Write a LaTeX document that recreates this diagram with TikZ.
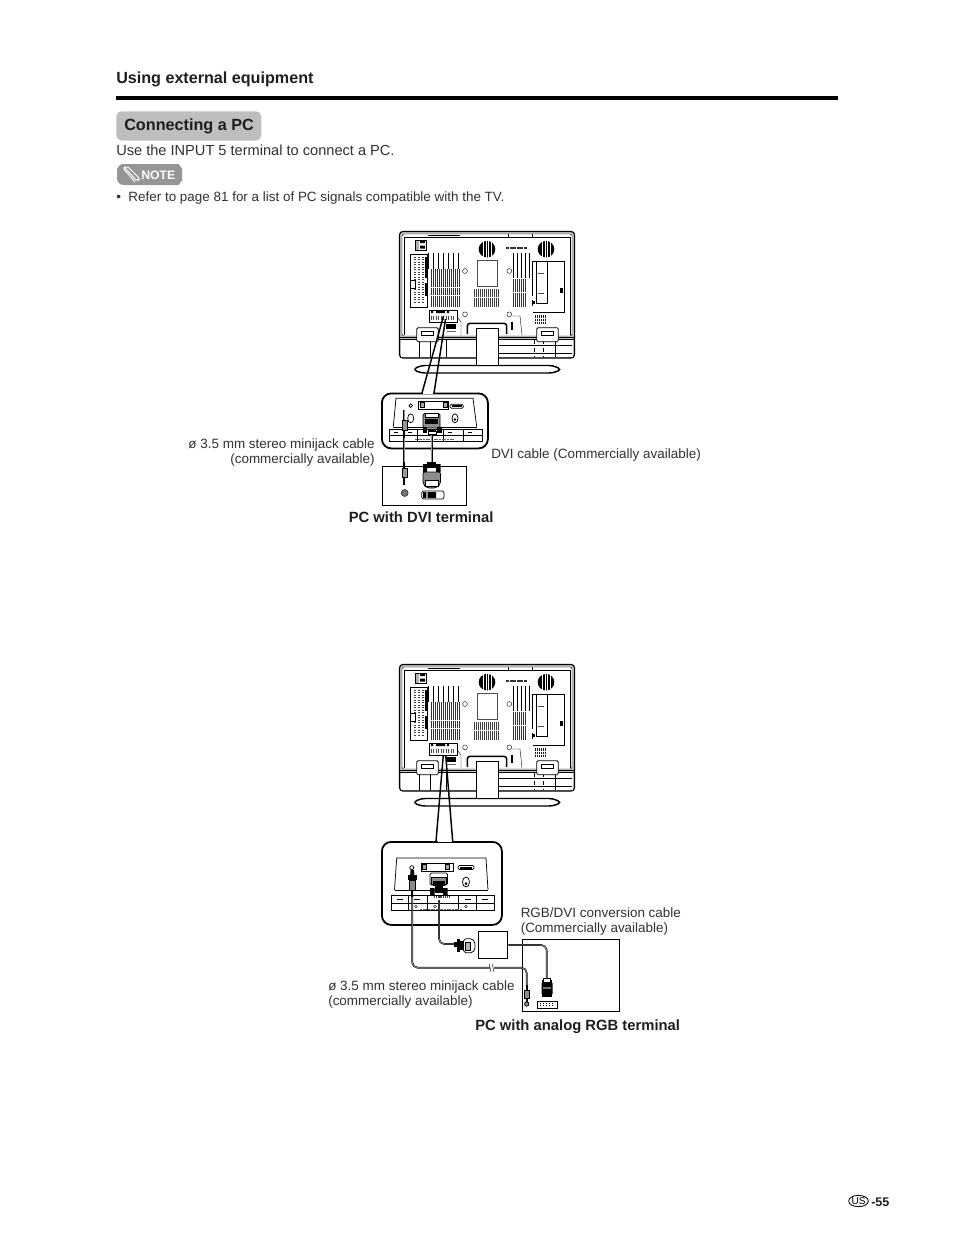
\documentclass[tikz,border=0pt]{standalone}
\usepackage{fontspec}
\setmainfont{Liberation Sans}
\usetikzlibrary{arrows.meta,positioning,shapes.geometric}
\definecolor{pill}{RGB}{190,190,190}
\definecolor{notegray}{RGB}{150,150,150}
\definecolor{ink}{RGB}{30,30,30}
\definecolor{txt}{RGB}{50,50,50}
\definecolor{cablecore}{RGB}{150,150,150}

\tikzset{
  head/.style={anchor=base west, font=\fontsize{12.1}{14}\selectfont\bfseries, text=ink, inner sep=0pt},
  body/.style={anchor=base west, font=\fontsize{10.95}{12}\selectfont, text=txt, inner sep=0pt},
  small/.style={font=\fontsize{10.1}{11.3}\selectfont, text=txt, inner sep=0pt, align=left},
  smallr/.style={font=\fontsize{10.1}{11.3}\selectfont, text=txt, inner sep=0pt, align=right},
  pclabel/.style={anchor=base west, font=\fontsize{11.1}{13}\selectfont\bfseries, text=ink, inner sep=0pt},
  box/.style={draw=black, line width=0.75pt, fill=white, inner sep=0pt, anchor=north west},
  callout/.style={draw=black, line width=1.35pt, fill=white, rounded corners=7pt, inner sep=0pt, anchor=north west},
  feed/.style={draw=black, line width=1.1pt},
  cable/.style={draw=black, line width=0.35pt, double=cablecore, double distance=0.55pt, rounded corners=4pt},
  thin/.style={draw=black, line width=0.3pt},
  med/.style={draw=black, line width=0.55pt},
  fat/.style={draw=black, line width=0.85pt},
}

% ---- rear view of the set, drawn at the upper position ----
\newcommand{\tvback}{%
  \draw[fat, rounded corners=2.5pt, fill=black!22] (399.5,231.5) rectangle (574.5,358);
  \draw[thin, rounded corners=1.5pt, fill=white] (402,234) rectangle (572,336);
  \draw[thin] (404,237) -- (570,237) -- (570,335);
  \draw[thin] (404,237) -- (404,335);
  \fill[white] (401,339) rectangle (573,356.8);
  \draw[med] (399.5,337) -- (574.5,337);
  \draw[thin] (399.5,339) -- (574.5,339);
  \draw[thin] (428,235) -- (460,235);
  \draw[thin] (508,234) -- (508,237.5) -- (532,237.5) -- (532,234);
  % base
  \draw[black, line width=1.1pt, fill=white, rounded corners=3pt] (421,365.5) -- (553,365.5) -- (561.7,369.5) -- (553,373) -- (421,373) -- (412.7,369.5) -- cycle;
  % neck and arch
  \draw[med, fill=white] (476.7,328) -- (476.7,365.5) (498.3,365.5) -- (498.3,328);
  \fill[white] (477,328) rectangle (498,365);
  \draw[black, line width=1.1pt, rounded corners=2pt] (467.3,334) -- (467.3,323.3) -- (506.7,323.3) -- (506.7,334);
  \draw[thin] (476.7,328) -- (498.3,328);
  % lower band
  \draw[med] (498.3,345) -- (572,345);
  \draw[med] (498.3,353) -- (572,353);
  \draw[thin] (555,340) -- (555,357);
  \foreach \x in {534,543}{\draw[thin, dashed] (\x,340) -- (\x,357);}
  \foreach \x in {419,430,446}{\draw[thin] (\x,340) -- (\x,357);}
  % speakers
  \foreach \cx in {487,546}{
    \fill[black] (\cx,249.2) circle (8.3);
    \foreach \dx in {-4,-1.3,1.3,4}{\draw[white, line width=0.25pt] (\cx+\dx,241) -- (\cx+\dx,257.5);}
  }
  % maker's mark
  \draw[black!80, line width=1.6pt, dash pattern=on 2.2pt off 0.5pt] (506,247.7) -- (527,247.7);
  % upper left sockets
  \fill[black!30] (415,240) rectangle (419,250);
  \fill[black] (420,240) rectangle (425,243) (420,245.5) rectangle (425,248.5);
  \draw[thin] (415,240) rectangle (426,250);
  % left terminal panel
  \draw[thin] (410,254.3) rectangle (426.7,306.7);
  \fill[black] (425,257) rectangle (427,278);
  \fill[black] (425,283) rectangle (427,296);
  \foreach \y in {257,259.5,...,302}{\draw[black!75, line width=0.7pt, dash pattern=on 2pt off 1pt] (413.5,\y) -- (424,\y);}
  \draw[thin, fill=white] (410,280) rectangle (415,288);
  % vents on the left
  \foreach \x in {428.5,433.5,...,459}{\draw[thin] (\x,252.5) -- (\x,269);}
  \foreach \x in {431,433,...,460.5}{\draw[black!80, line width=0.7pt] (\x,269) -- (\x,307);}
  \draw[white, line width=0.5pt] (430.5,287) -- (461,287) (430.5,295) -- (461,295);
  % centre
  \draw[black!70, line width=0.3pt] (476.7,260) rectangle (497.3,285.7);
  \foreach \x in {474,476,...,499.5}{\draw[black!75, line width=0.65pt] (\x,288.5) -- (\x,306.7);}
  \draw[white, line width=0.4pt] (473,297) -- (500.5,297);
  % vents on the right
  \foreach \x in {513,517,...,530}{\draw[thin] (\x,252.5) -- (\x,278);}
  \foreach \x in {513,515,...,525}{\draw[black!80, line width=0.7pt] (\x,278.5) -- (\x,306.7);}
  \draw[white, line width=0.4pt] (512,292) -- (526,292);
  \draw[thin] (564,261) -- (564,312) -- (533,312);
  \draw[black, line width=0.8pt] (532.7,261) -- (532.7,296) (532.7,300) -- (532.7,306);
  \draw[thin] (532.7,261) -- (564,261);
  \draw[thin] (536,262) -- (536,303) -- (546.7,303) -- (546.7,262);
  \fill[black] (560,288) rectangle (563,293);
  \fill[black] (532,301) rectangle (535,304);
  \foreach \y in {273,293}{\draw[black!70, line width=0.5pt] (538,\y) -- (544,\y);}
  \foreach \x in {535.5,537.5,...,546}{\draw[black!90, line width=1pt] (\x,315) -- (\x,324);}
  \foreach \y in {318,321}{\draw[white, line width=0.4pt] (534,\y) -- (547,\y);}
  % screws
  \foreach \px/\py in {465/271,509.3/271,465/314.3,509.3/314.3}{\draw[thin] (\px,\py) circle (2.4);}
  % bottom terminals
  \draw[thin] (429.3,310) rectangle (456.7,321.7);
  \fill[black] (431,310.5) rectangle (433,313) (447,310.5) rectangle (449,313) (436,311) rectangle (445,313);
  \foreach \x in {431,433.5,...,455}{\draw[black!70, line width=0.55pt] (\x,315.5) -- (\x,320);}
  \fill[black] (446,324) rectangle (456,329);
  \draw[black!60, line width=0.6pt] (447,331) -- (456,331);
  \draw[thin] (458,318) -- (461,322) -- (461,335);
  \fill[black] (511,322) rectangle (513,330);
  \draw[thin] (512,316) -- (520,316) -- (522,335);
  % brackets
  \foreach \bx in {416.7,536.7}{
    \draw[med, fill=white, rounded corners=1pt] (\bx,327.7) rectangle (\bx+21.6,341.7);
    \draw[black, line width=0.7pt] (\bx+5,331) rectangle (\bx+17,335.7);
  }
}

\begin{document}
\begin{tikzpicture}[x=0.75pt, y=-0.75pt]

\useasboundingbox[fill=white] (0,0) rectangle (954,1235);

% ---- heading ----
\node[head] (title) at (116,83) {Using external equipment};
\draw[black, line width=3pt] (116,98) -- (838,98);

\node[draw=none, fill=pill, rounded corners=4pt, inner sep=0pt, minimum width=108.75pt, minimum height=22pt, anchor=north west] (pillbox) at (116,111) {};
\node[pclabel, font=\fontsize{12.15}{14}\selectfont\bfseries] (section) at (124,130) {Connecting a PC};
\node[body] (intro) at (116,155) {Use the INPUT 5 terminal to connect a PC.};

% ---- note badge ----
\fill[notegray, rounded corners=5pt] (117,164) -- (172,164) .. controls (179,164) and (182,170) .. (182,174.5) .. controls (182,179) and (179,185) .. (172,185) -- (117,185) -- cycle;
\draw[white, line width=0.7pt, rounded corners=1.5pt] (125,168) -- (137,181) -- (140,179) -- (127,166) -- (123,168) -- (135,182);
\node[font=\fontsize{9.2}{11}\selectfont\bfseries, text=white, inner sep=0pt, anchor=base west] (notetag) at (141,179) {NOTE};
\node[body, font=\fontsize{10.08}{11}\selectfont] (bullet) at (116,201) {\textbullet\ \ Refer to page 81 for a list of PC signals compatible with the TV.};

% ---- upper set ----
\tvback

% ---- upper callout ----
\coordinate (feedA) at (443.5,316);
\coordinate (feedB) at (445.5,319);
\node[callout, minimum width=79.5pt, minimum height=41.25pt] (zoomA) at (381,392.5) {};
\draw[white, line width=2pt] (423,392.5) -- (433,392.5);
\draw[feed] (feedA) -- (422,393);
\draw[feed] (feedB) -- (434,393);

% panel
\draw[med] (393.3,426.7) -- (396,398.3) -- (473,398.3) -- (476.7,426.7);
\draw[thin] (393.3,426.7) -- (476.7,426.7);
\draw[thin] (389,429) -- (481.7,429) -- (481.7,441) -- (389,441) -- cycle;
\foreach \x in {403,417,443,463}{\draw[thin] (\x,429) -- (\x,441);}
\draw[thin] (389,435) -- (481.7,435);
\foreach \x in {396,410,450,470}{\draw[black, line width=0.6pt] (\x-2,432) -- (\x+2,432);}
\draw[black!60, line width=0.7pt, dash pattern=on 1.5pt off 0.5pt] (415,439) -- (455,439);
\draw[med, fill=white] (410.7,405.7) circle (1.8);
\draw[med] (418.3,401) rectangle (448.3,409);
\foreach \x in {420,443}{\draw[thin, fill=black!35] (\x,402.5) rectangle (\x+4,407.5);}
\draw[med, rounded corners=1pt] (450,404.3) rectangle (463.3,408.3);
\fill[black] (452,405.3) rectangle (461.5,407.3);
\draw[med, fill=white] (455,418.3) ellipse (3 and 4.5);
\fill[black] (455,419.5) circle (1.4);
\draw[med, fill=white] (410.7,418.3) ellipse (3 and 4.5);

% DVI plug at the set and at the PC
\coordinate (dviTop) at (431.7,433);
\coordinate (jackTop) at (404.3,410);
\node[box, minimum width=63pt, minimum height=29.25pt] (pcA) at (381.7,466) {};
\coordinate (dviPcA) at (431.7,466);
\coordinate (jackPcA) at (404.3,485);
\draw[cable] (dviTop) -- (dviPcA);
\draw[cable] (jackTop) -- (jackPcA);

\draw[med, fill=black!45, rounded corners=1pt] (423,413.5) rectangle (440,428);
\fill[black] (425,419) rectangle (438,424);
\draw[med, fill=white] (425,413.5) rectangle (438,417);
\fill[black] (422.5,427) rectangle (427,433);
\fill[black] (437,427) rectangle (441.5,433);
\fill[black] (428,429) rectangle (436,431);
\fill[white] (428,431.5) rectangle (436,434.5);
\draw[thin] (428,431.5) rectangle (436,434.5);
\draw[thin, fill=black!40] (401.7,420) rectangle (406.7,430);
\fill[black] (403.4,430) rectangle (405.2,438);
\fill[black] (403.4,462) rectangle (405.2,468);

\draw[thin, fill=black!40] (401.7,468) rectangle (406.7,476.7);
\fill[black] (403.4,476.7) rectangle (405.2,485);
\fill[black!55] (404.7,493) circle (3.5);
\draw[thin] (404.7,493) circle (3.5);
\fill[black] (427,462) rectangle (436,468);
\fill[black] (423,464) rectangle (427,472) (436,464) rectangle (440.5,472);
\draw[med, fill=black!45, rounded corners=1.5pt] (423,472) -- (440.5,472) -- (440.5,484) -- (436,488) -- (427,488) -- (423,484) -- cycle;
\draw[med, fill=white] (425,480) rectangle (438.5,486);
\draw[med, rounded corners=1pt] (421.7,491) rectangle (444,499);
\fill[black] (423,492) rectangle (426,498) (428,492) rectangle (436,498);
\fill[black!40] (426,492) rectangle (428,498);

\node[smallr, anchor=north east] (minijackA) at (375,438) {ø 3.5 mm stereo minijack cable\\(commercially available)};
\node[small, anchor=base west] (dviLabel) at (491,458) {DVI cable (Commercially available)};
\node[pclabel] (pcAlabel) at (348.5,522) {PC with DVI terminal};

% ---- lower set ----
\begin{scope}[shift={(0,433)}]
\tvback
\end{scope}

% ---- lower callout ----
\coordinate (feedC) at (443.3,755);
\coordinate (feedD) at (445.7,755);
\node[callout, minimum width=90pt, minimum height=62.25pt] (zoomB) at (381,841) {};
\draw[white, line width=2pt] (437.5,841) -- (451.5,841);
\draw[feed] (feedC) -- (436,841.5);
\draw[feed] (feedD) -- (452.7,841.5);

% panel
\draw[med] (394.5,890) -- (396.7,858) -- (486,858) -- (488,890);
\draw[thin] (394.5,890) -- (488,890);
\draw[thin] (390.7,895) -- (494,895) -- (494,910) -- (390.7,910) -- cycle;
\draw[thin] (390.7,903) -- (494,903);
\foreach \x in {408,427,458,476}{\draw[thin] (\x,895) -- (\x,910);}
\foreach \x in {400,417,468,485}{\draw[black, line width=0.6pt] (\x-3,899) -- (\x+3,899);}
\foreach \x in {416,435,466}{\draw[thin] (\x,906.5) circle (1.3);}
\draw[black!60, line width=0.7pt, dash pattern=on 1.5pt off 0.5pt] (420,909) -- (462,909);
\draw[med, fill=white] (411.7,867.7) circle (2);
\draw[med] (421,863) rectangle (453,871);
\foreach \x in {422,445}{\draw[thin, fill=black!35] (\x,864.5) rectangle (\x+4.5,869.5);}
\draw[med, rounded corners=1pt] (458,865.5) rectangle (474,869.5);
\fill[black] (460,866.5) rectangle (472,868.5);
\draw[med, fill=white] (466,882) ellipse (3.5 and 5);
\fill[black] (466,883.5) circle (1.5);

% cables
\coordinate (jackTopB) at (412.3,880);
\coordinate (jackEndB) at (526.7,985);
\coordinate (dviTopB) at (439,900);
\node[box, minimum width=72.75pt, minimum height=54pt] (pcB) at (522.3,939.3) {};
\node[box, minimum width=21.75pt, minimum height=20.25pt] (adapter) at (478.3,931) {};
\coordinate (vgaPlug) at (546.7,978);
\coordinate (dviPlugB) at (454,944);
\draw[cable] (jackTopB) -- (412.3,967.7) -- (526.7,967.7) -- (jackEndB);
\draw[cable] (dviTopB) -- (439,944) -- (dviPlugB);
\draw[cable] (adapter.east) -| (vgaPlug);

% break mark
\draw[white, line width=2.6pt] (489.5,967.7) -- (493.5,967.7);
\draw[black, line width=0.35pt] (490,963.5) .. controls (488.5,966) and (491.5,969) .. (490,972);
\draw[black, line width=0.35pt] (493,963.5) .. controls (491.5,966) and (494.5,969) .. (493,972);

% plugs at the set
\fill[black] (410.6,870) -- (414,870) -- (414.5,877) -- (410,877) -- cycle;
\fill[black] (408,875) -- (416.5,875) -- (416.5,880) -- (408,880) -- cycle;
\draw[thin, fill=black!45] (409,880) rectangle (415.5,890);
\fill[black] (411.3,890) rectangle (413.3,897);
\draw[med, fill=white, rounded corners=1pt] (430,873) rectangle (447.5,885);
\draw[med, fill=black!45] (431.5,877) rectangle (446,884);
\fill[black] (433,881) rectangle (445,886);
\fill[black] (430,888) rectangle (434.5,895) (443,888) rectangle (447.5,895);
\fill[black] (434.5,886) rectangle (443,893);
\draw[black!75, line width=1pt, dash pattern=on 1pt off 0.6pt] (434,897) -- (449,897);

% plug on the cable into the adapter
\fill[black] (454,942) rectangle (458,947);
\fill[black] (456.5,939) rectangle (460,952);
\fill[black] (460,941) rectangle (464,950);
\draw[med, fill=white, rounded corners=1.5pt] (463.5,939) -- (472,938.5) -- (475,942) -- (475,950) -- (472,953) -- (463.5,952.5) -- cycle;
\draw[thin, fill=black!30] (465,942) rectangle (470,950);

% plugs in the PC box
\fill[black] (542,980) rectangle (552,997);
\draw[thin, fill=white] (543.5,978) rectangle (550.5,982);
\fill[black] (541.5,983) rectangle (543.5,994) (550.5,983) rectangle (552.5,994);
\fill[black!55] (543,987) rectangle (551,989);
\draw[thin, fill=white] (536.7,1001) rectangle (557,1008);
\foreach \x in {539.5,542.5,...,554}{\draw[black, line width=0.6pt] (\x,1003.2) -- (\x+1,1003.2) (\x,1005.6) -- (\x+1,1005.6);}
\draw[thin, fill=black!45] (524.5,990) rectangle (529,998);
\fill[black] (525.8,985) rectangle (527.6,990);
\fill[black] (525.8,998) rectangle (527.6,1002);
\draw[med, fill=black!45] (526.7,1004) circle (2.2);

\node[small, anchor=north west] (rgbLabel) at (520.5,907) {RGB/DVI conversion cable\\(Commercially available)};
\node[small, anchor=north west] (minijackB) at (328,980) {ø 3.5 mm stereo minijack cable\\(commercially available)};
\node[pclabel] (pcBlabel) at (475,1030) {PC with analog RGB terminal};

% ---- page number ----
\node[draw=black, line width=0.6pt, ellipse, minimum width=14.25pt, minimum height=8.5pt, inner sep=0pt, font=\fontsize{7.5}{8}\selectfont, text=black] (usmark) at (858.5,1201) {US};
\node[anchor=base west, font=\fontsize{9.4}{11}\selectfont\bfseries, text=ink, inner sep=0pt] (pageno) at (871,1206) {-55};

\end{tikzpicture}
\end{document}
